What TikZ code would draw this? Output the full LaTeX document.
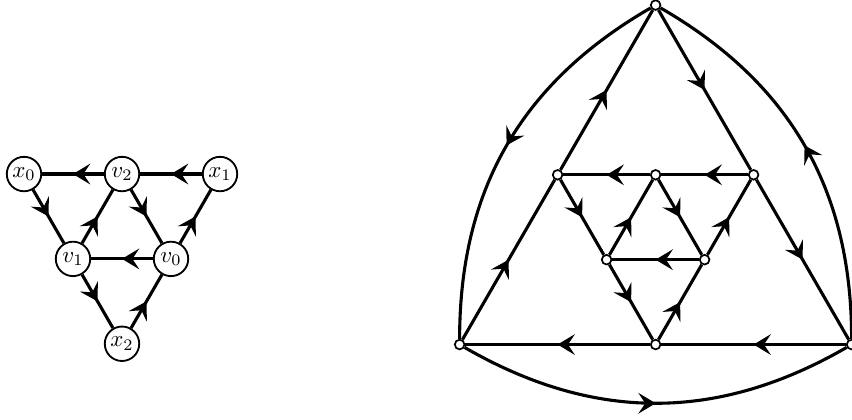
\documentclass[tikz,border=0pt]{standalone}
\usepackage{tikz}
\usetikzlibrary{
	arrows.meta,
	decorations.markings
}

\begin{document}
\begin{tikzpicture}[
 x=1.5cm,y=1.5cm,
 vertex/.style={circle,draw,fill=white,line width=.8pt,inner sep=1pt,minimum size=15pt},
 dot/.style={circle,draw,fill=white,line width=.75pt,inner sep=0pt,minimum size=4.2pt},
 midarrow/.style={decoration={markings,mark=at position .5 with
   {\arrow{Stealth[length=7.5pt,width=9pt,inset=3pt]}}},postaction={decorate}},
 link/.style={midarrow,line width=1.35pt}
]
 \useasboundingbox (0,0) rectangle (8.694,4.276);
 % small graph
 \node[vertex] (x0) at (0.245,2.50) {$x_0$};
 \node[vertex] (v2) at (1.245,2.50) {$v_2$};
 \node[vertex] (x1) at (2.245,2.50) {$x_1$};
 \node[vertex] (v1) at (0.745,1.634) {$v_1$};
 \node[vertex] (v0) at (1.745,1.634) {$v_0$};
 \node[vertex] (x2) at (1.245,0.768) {$x_2$};
 \draw[link] (x1)--(v2);
 \draw[link] (v2)--(x0);
 \draw[link] (x0)--(v1);
 \draw[link] (v1)--(v2);
 \draw[link] (v2)--(v0);
 \draw[link] (v0)--(x1);
 \draw[link] (v0)--(v1);
 \draw[link] (v1)--(x2);
 \draw[link] (x2)--(v0);
 % large graph
 \node[dot] (top) at (6.69,4.224) {};
 \node[dot] (bl) at (4.69,0.76) {};
 \node[dot] (br) at (8.69,0.76) {};
 \node[dot] (bm) at (6.69,0.76) {};
 \node[dot] (ml) at (5.69,2.492) {};
 \node[dot] (mm) at (6.69,2.492) {};
 \node[dot] (mr) at (7.69,2.492) {};
 \node[dot] (il) at (6.19,1.626) {};
 \node[dot] (ir) at (7.19,1.626) {};
 \draw[link] (top) to[bend right=30] (bl);
 \draw[link] (bl) to[bend right=30] (br);
 \draw[link] (br) to[bend right=30] (top);
 \draw[link] (ml)--(top);
 \draw[link] (top)--(mr);
 \draw[link] (bl)--(ml);
 \draw[link] (mr)--(br);
 \draw[link] (bm)--(bl);
 \draw[link] (br)--(bm);
 \draw[link] (mm)--(ml);
 \draw[link] (mr)--(mm);
 \draw[link] (ml)--(il);
 \draw[link] (il)--(mm);
 \draw[link] (mm)--(ir);
 \draw[link] (ir)--(mr);
 \draw[link] (ir)--(il);
 \draw[link] (il)--(bm);
 \draw[link] (bm)--(ir);
\end{tikzpicture}
\end{document}
